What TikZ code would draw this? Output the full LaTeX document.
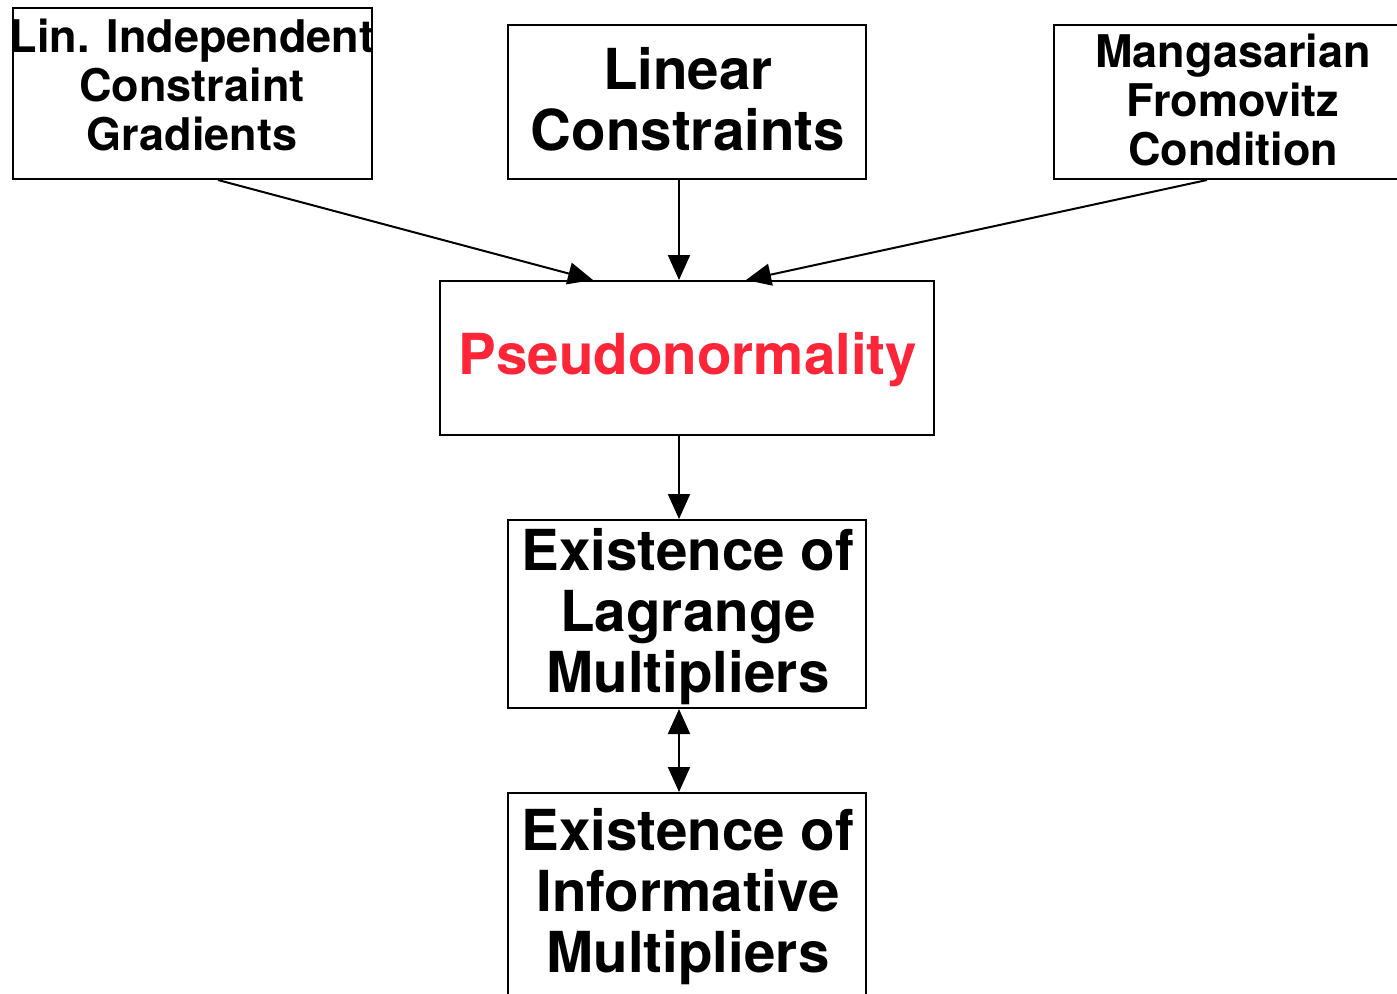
\documentclass[tikz,border=0pt]{standalone}
\usepackage{fontspec}
\setmainfont{TeX Gyre Heros}
\usetikzlibrary{arrows.meta}
\definecolor{pred}{RGB}{252,38,56}
\tikzset{
  box/.style={draw=black, line width=2pt, rectangle, inner sep=0pt},
  small/.style={align=center, inner sep=0pt, font=\fontsize{45}{49}\selectfont\bfseries},
  big/.style={align=center, inner sep=0pt, font=\fontsize{56.5}{61}\selectfont\bfseries},
  conn/.style={line width=2pt, -{Triangle[length=25pt,width=22pt]}},
  dconn/.style={line width=2pt, {Triangle[length=25pt,width=22pt]}-{Triangle[length=25pt,width=22pt]}}
}
\begin{document}
\begin{tikzpicture}[x=1pt,y=-1pt]
\useasboundingbox (0,0) rectangle (1397,993);
\clip (0,0) rectangle (1397,993);
\fill[white] (0,0) rectangle (1397,993);
% boxes
\node[box, minimum width=359pt, minimum height=171pt] (licg) at (192.5,93.5) {};
\node[box, minimum width=358pt, minimum height=154pt] (lin) at (687,102) {};
\node[box, minimum width=358pt, minimum height=154pt] (mf) at (1233,102) {};
\node[box, minimum width=494pt, minimum height=154pt] (pn) at (687,358) {};
\node[box, minimum width=358pt, minimum height=188pt] (lag) at (687,614) {};
\node[box, minimum width=358pt, minimum height=203pt] (inf) at (687,894.5) {};
% texts
\node[small] (licgT) at (192,85) {Lin. Independent\\Constraint\\Gradients};
\node[big] (linT) at (688,99) {Linear\\Constraints};
\node[small] (mfT) at (1233,100) {Mangasarian\\Fromovitz\\Condition};
\node[big, text=pred] (pnT) at (688,360) {Pseudonormality};
\node[big] (lagT) at (688,617) {Existence of\\Lagrange\\Multipliers};
\node[big] (infT) at (688,897) {Existence of\\Informative\\Multipliers};
% connectors
\coordinate (licgS) at ([xshift=25.5pt]licg.south);
\coordinate (pnL) at ([xshift=-94pt]pn.north);
\coordinate (mfS) at ([xshift=-26pt]mf.south);
\coordinate (pnR) at ([xshift=59pt]pn.north);
\coordinate (linS) at ([xshift=-8pt]lin.south);
\coordinate (pnT1) at ([xshift=-8pt]pn.north);
\coordinate (pnB) at ([xshift=-8pt]pn.south);
\coordinate (lagN) at ([xshift=-8pt]lag.north);
\coordinate (lagS) at ([xshift=-8pt]lag.south);
\coordinate (infN) at ([xshift=-8pt]inf.north);
\draw[conn] (licgS) -- (pnL);
\draw[conn] (linS) -- (pnT1);
\draw[conn] (mfS) -- (pnR);
\draw[conn] (pnB) -- (lagN);
\draw[dconn] (lagS) -- (infN);
\end{tikzpicture}
\end{document}
